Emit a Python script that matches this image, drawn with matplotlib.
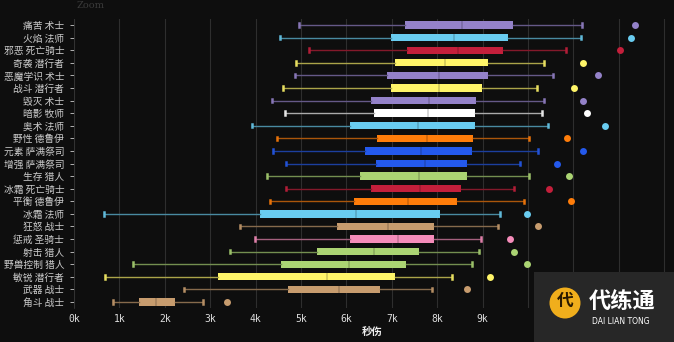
import matplotlib
matplotlib.use('Agg')
import matplotlib.pyplot as plt
import matplotlib.colors as mcolors
from matplotlib.patches import Rectangle, Ellipse

# WoW spec dps spread, values in k dps
specs = ['痛苦 术士', '火焰 法师', '邪恶 死亡骑士', '奇袭 潜行者', '恶魔学识 术士',
         '战斗 潜行者', '毁灭 术士', '暗影 牧师', '奥术 法师', '野性 德鲁伊',
         '元素 萨满祭司', '增强 萨满祭司', '生存 猎人', '冰霜 死亡骑士', '平衡 德鲁伊',
         '冰霜 法师', '狂怒 战士', '惩戒 圣骑士', '射击 猎人', '野兽控制 猎人',
         '敏锐 潜行者', '武器 战士', '角斗 战士']
whislo = [4.95, 4.53, 5.17, 4.88, 4.86, 4.60, 4.36, 4.64, 3.92, 4.47, 4.38, 4.67,
          4.25, 4.67, 4.32, 0.67, 3.65, 3.98, 3.43, 1.30, 0.69, 2.42, 0.85]
q1 = [7.30, 6.99, 7.33, 7.07, 6.89, 6.98, 6.55, 6.62, 6.09, 6.67, 6.41, 6.66,
      6.31, 6.54, 6.16, 4.09, 5.79, 6.09, 5.35, 4.55, 3.18, 4.71, 1.43]
med = [8.55, 8.38, 8.45, 8.18, 8.05, 8.05, 7.83, 7.79, 7.57, 7.77, 7.65, 7.73,
       7.59, 7.62, 7.35, 6.22, 6.91, 7.13, 6.60, 6.05, 5.57, 5.83, 1.81]
q3 = [9.67, 9.57, 9.45, 9.12, 9.12, 8.99, 8.86, 8.84, 8.84, 8.78, 8.76, 8.65,
      8.65, 8.53, 8.43, 8.07, 7.94, 7.94, 7.61, 7.31, 7.07, 6.74, 2.23]
whishi = [11.19, 11.17, 10.83, 10.36, 10.56, 10.19, 10.36, 10.30, 10.45, 10.02,
          10.23, 9.83, 10.03, 9.70, 9.91, 9.39, 9.35, 8.97, 8.92, 8.77, 8.33, 7.89, 2.84]
outlier = [12.35, 12.27, 12.03, 11.21, 11.55, 11.01, 11.21, 11.30, 11.69, 10.85,
           11.22, 10.64, 10.91, 10.47, 10.94, 9.97, 10.23, 9.60, 9.69, 9.98, 9.17, 8.66, 3.36]
colors = ['#9482C9', '#69CCF0', '#C41F3B', '#FFF569', '#9482C9', '#FFF569', '#9482C9',
          '#FFFFFF', '#69CCF0', '#FF7D0A', '#2459EC', '#2459EC', '#ABD473', '#C41F3B',
          '#FF7D0A', '#69CCF0', '#C79C6E', '#F58CBA', '#ABD473', '#ABD473', '#FFF569',
          '#C79C6E', '#C79C6E']
xticks = [0, 1, 2, 3, 4, 5, 6, 7, 8, 9]

bg = '#0e0e0e'
plt.rcParams['font.family'] = ['Noto Sans CJK SC', 'DejaVu Sans']


def blend(c, k):
    r, g, b = mcolors.to_rgb(c)
    return (r * k + 0.055 * (1 - k), g * k + 0.055 * (1 - k), b * k + 0.055 * (1 - k))


fig = plt.figure(figsize=(6.74, 3.42), dpi=100, facecolor=bg)
ax = fig.add_axes([74 / 674, 1 - 308.3 / 342, 596 / 674, 289.6 / 342], facecolor=bg)

for i in range(len(specs)):
    st = [dict(whislo=whislo[i], q1=q1[i], med=med[i], q3=q3[i], whishi=whishi[i],
               fliers=[outlier[i]])]
    c = colors[i]
    ax.bxp(st, positions=[i + 1], vert=False, widths=0.58, capwidths=0.28,
           patch_artist=True, manage_ticks=False,
           boxprops=dict(facecolor=c, edgecolor=c, linewidth=0),
           medianprops=dict(color=blend(c, 0.8), linewidth=1.2),
           whiskerprops=dict(color=blend(c, 0.65), linewidth=1),
           capprops=dict(color=blend(c, 0.9), linewidth=1.8),
           flierprops=dict(marker='o', markersize=5, markerfacecolor=c,
                           markeredgecolor='none'))

ax.set_xlim(0, 13.13)
ax.set_ylim(len(specs) + 0.5, 0.5)
ax.set_xticks(range(14))
ax.set_xticklabels([f'{v}k' for v in xticks] + [''] * 4,
                   family='DejaVu Sans Mono', fontsize=7)
ax.set_yticks(range(1, len(specs) + 1))
ax.set_yticklabels(specs, fontsize=7)
ax.tick_params(axis='x', colors='#dddddd', length=0, pad=4)
ax.tick_params(axis='y', colors='#cccccc', length=3, width=0.6, pad=4)
for t in ax.get_yticklines():
    t.set_color('#333333')
ax.grid(axis='x', color='#2e2e2e', linewidth=0.8)
ax.set_axisbelow(True)
for s in ['top', 'right', 'bottom']:
    ax.spines[s].set_visible(False)
ax.spines['left'].set_color('#333333')
ax.spines['left'].set_linewidth(0.6)
ax.set_xlabel('秒伤', color='#eeeeee', fontsize=7.5, fontweight='bold', labelpad=2)

fig.text(77 / 674, 1 - 1 / 342, 'Zoom', color='#3a3a3a', fontsize=7, family='DejaVu Serif',
         va='top', ha='left')

# watermark box in the corner
fig.add_artist(Rectangle((534 / 674, 0), 140 / 674, 70 / 342, transform=fig.transFigure,
                         facecolor='#272727', edgecolor='none'))
fig.add_artist(Ellipse((565 / 674, 39 / 342), 31 / 674, 31 / 342, transform=fig.transFigure,
                       facecolor='#f0ae1c', edgecolor='none'))
fig.text(565 / 674, 41 / 342, '代', color='#2a1a00', fontsize=12, fontweight='bold',
         ha='center', va='center')
fig.text(589 / 674, 40 / 342, '代练通', color='white', fontsize=16, fontweight='bold',
         ha='left', va='center')
fig.text(592 / 674, 20 / 342, 'DAI LIAN TONG', color='white', fontsize=5.5,
         family='DejaVu Sans', ha='left', va='center')

fig.savefig('out.png', dpi=100, facecolor=bg)
